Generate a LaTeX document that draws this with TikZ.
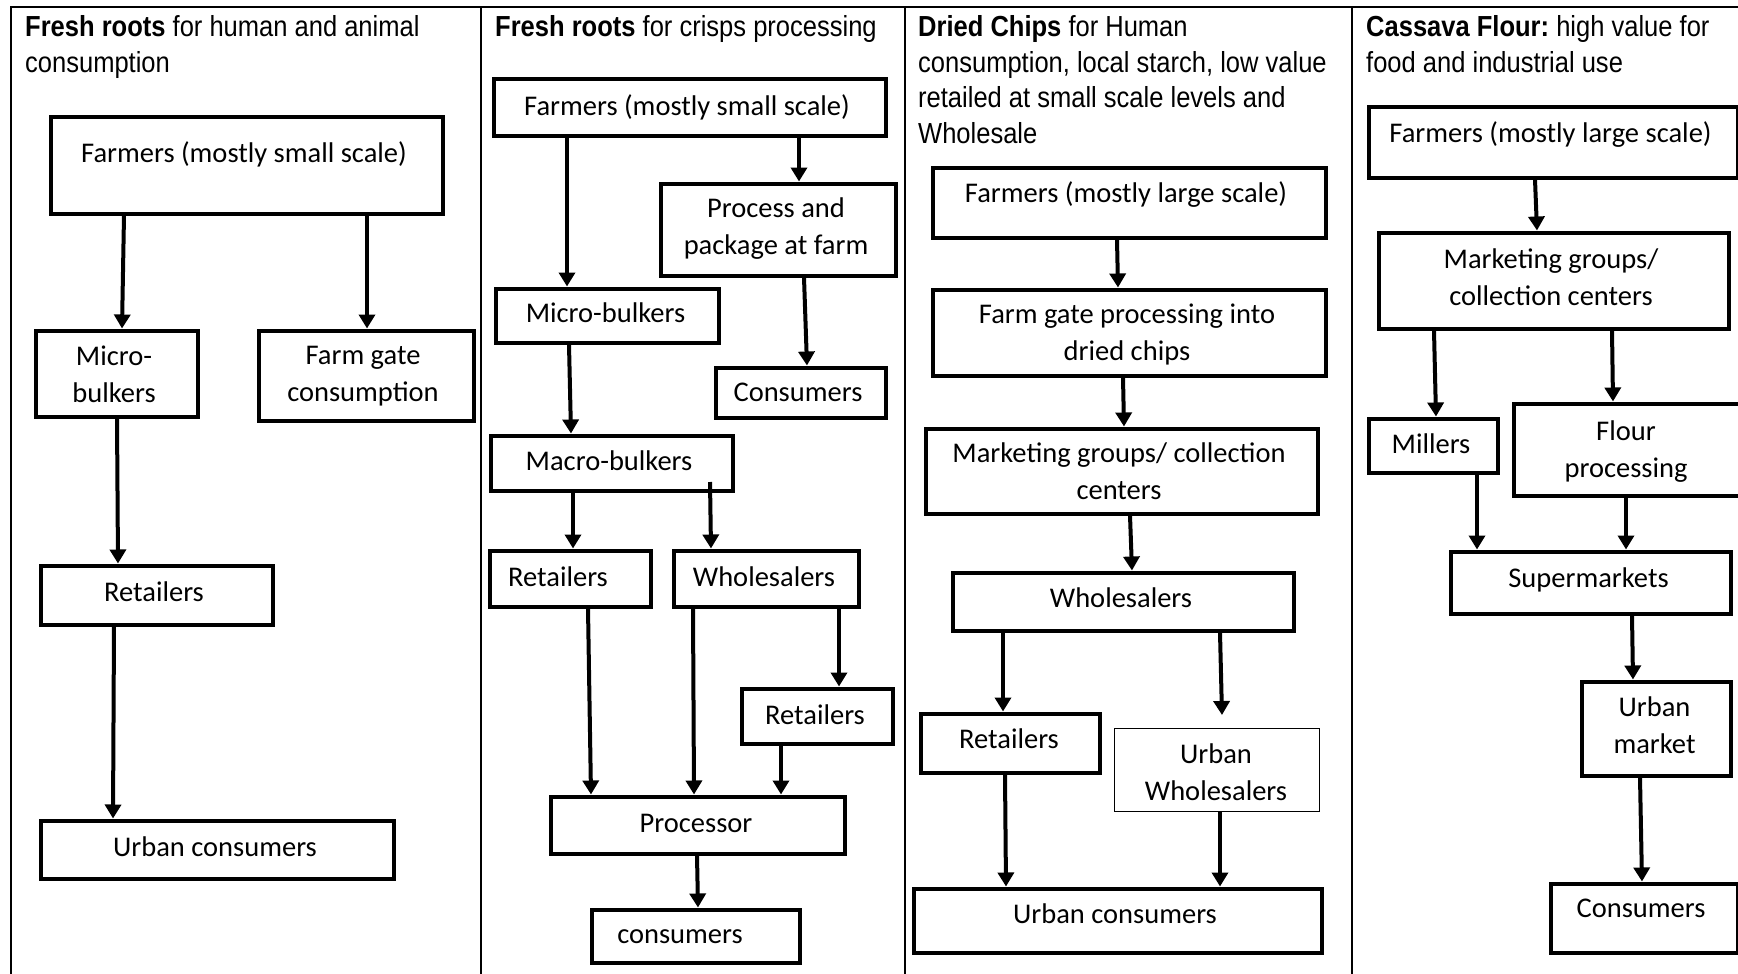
\documentclass[tikz,border=0pt]{standalone}
\usepackage{fontspec}
\setmainfont{Carlito}
\newfontfamily\titlef[FakeStretch=0.88]{Liberation Sans}
\usetikzlibrary{arrows.meta}
\frenchspacing
\tikzset{
  frame/.style={line width=2pt},
  box/.style={draw, line width=4pt, inner sep=0pt, anchor=north west},
  thinbox/.style={draw, line width=1.8pt, inner sep=0pt, anchor=north west},
  arr/.style={line width=4pt, -{Triangle[width=16pt,length=14pt]}},
  txt/.style={inner sep=0pt, anchor=north, align=center, yshift=26.25pt,
    font=\fontsize{28.5}{37.5}\selectfont},
  ttl/.style={inner sep=0pt, anchor=north west, align=left, yshift=24.85pt,
    font=\titlef\fontsize{29}{35.5}\selectfont},
}
\newcommand{\bx}[6][box]{%
  \node[#1, minimum width=#4pt-#2pt-3pt, minimum height=#5pt-#3pt-3pt] (#6) at (#2+1.5,#3+1.5) {};}
\begin{document}
\begin{tikzpicture}[x=1pt,y=-1pt]
\useasboundingbox (0,0) rectangle (1738,974);
% frame
\draw[frame] (1738,7) -- (11,7) -- (11,974);
\draw[frame] (481,7) -- (481,974);
\draw[frame] (905,7) -- (905,974);
\draw[frame] (1352,7) -- (1352,974);

% titles
\node[ttl] (t1) at (25,36.5) {\strut\textbf{Fresh roots} for human and animal\\consumption};
\node[ttl] (t2) at (495,36.5) {\strut\textbf{Fresh roots} for crisps processing};
\node[ttl] (t3) at (918,36.5) {\strut\textbf{Dried Chips} for Human\\consumption, local starch, low value\\retailed at small scale levels and\\Wholesale};
\node[ttl] (t4) at (1366,36.5) {\strut\textbf{Cassava Flour:} high value for\\food and industrial use};

% ---------- panel 1 ----------
\bx{47}{113}{442}{213}{f1}
\bx{32}{327}{197}{416}{mb1}
\bx{255}{327}{473}{420}{fg1}
\bx{37}{562}{272}{624}{r1}
\bx{37}{817}{393}{878}{u1}
\node[txt] (f1t) at (244,162) {\strut Farmers (mostly small scale)};
\node[txt] (mb1t) at (114,365) {\strut Micro-\\bulkers};
\node[txt] (fg1t) at (363,364) {\strut Farm gate\\consumption};
\node[txt] (r1t) at (154,601) {\strut Retailers};
\node[txt] (u1t) at (215,856) {\strut Urban consumers};
\draw[arr] (124,0 |- f1.south) -- (122,0 |- mb1.north);
\draw[arr] (367,0 |- f1.south) -- (367,0 |- fg1.north);
\draw[arr] (117,0 |- mb1.south) -- (118,0 |- r1.north);
\draw[arr] (114,0 |- r1.south) -- (113,0 |- u1.north);

% ---------- panel 2 ----------
\bx{490}{76}{885}{135}{f2}
\bx{657}{180}{895}{275}{pp2}
\bx{492}{285}{718}{342}{mb2}
\bx{712}{364}{885}{417}{c2}
\bx{487}{432}{732}{490}{mc2}
\bx{486}{547}{650}{606}{r2}
\bx{670}{547}{858}{606}{w2}
\bx{738}{685}{892}{743}{r2b}
\bx{547}{793}{844}{853}{pr2}
\bx{588}{906}{799}{962}{c2b}
\node[txt] (f2t) at (687,115) {\strut Farmers (mostly small scale)};
\node[txt] (pp2t) at (776,217) {\strut Process and\\package at farm};
\node[txt] (mb2t) at (605.5,322) {\strut Micro-bulkers};
\node[txt] (c2t) at (798,401) {\strut Consumers};
\node[txt] (mc2t) at (609,470) {\strut Macro-bulkers};
\node[txt] (r2t) at (558,586) {\strut Retailers};
\node[txt] (w2t) at (764,586) {\strut Wholesalers};
\node[txt] (r2bt) at (815,724) {\strut Retailers};
\node[txt] (pr2t) at (696,832) {\strut Processor};
\node[txt] (c2bt) at (680,943) {\strut consumers};
\coordinate (mcw) at (710,482);
\draw[arr] (567,0 |- f2.south) -- (567,0 |- mb2.north);
\draw[arr] (799,0 |- f2.south) -- (799,0 |- pp2.north);
\draw[arr] (804,0 |- pp2.south) -- (807,0 |- c2.north);
\draw[arr] (569,0 |- mb2.south) -- (571,0 |- mc2.north);
\draw[arr] (573,0 |- mc2.south) -- (573,0 |- r2.north);
\draw[arr] (mcw) -- (711,0 |- w2.north);
\draw[arr] (588,0 |- r2.south) -- (591,0 |- pr2.north);
\draw[arr] (693,0 |- w2.south) -- (694,0 |- pr2.north);
\draw[arr] (839,0 |- w2.south) -- (839,0 |- r2b.north);
\draw[arr] (781,0 |- r2b.south) -- (781,0 |- pr2.north);
\draw[arr] (697,0 |- pr2.south) -- (698,0 |- c2b.north);

% ---------- panel 3 ----------
\bx{929}{164}{1325}{237}{f3}
\bx{929}{286}{1325}{375}{fg3}
\bx{922}{425}{1317}{513}{mg3}
\bx{949}{569}{1293}{630}{w3}
\bx{917}{710}{1099}{772}{r3}
\bx[thinbox]{1112}{726}{1320}{812}{uw3}
\bx{910}{885}{1321}{952}{u3}
\node[txt] (f3t) at (1126,202) {\strut Farmers (mostly large scale)};
\node[txt] (fg3t) at (1127,323) {\strut Farm gate processing into\\dried chips};
\node[txt] (mg3t) at (1119,462) {\strut Marketing groups/ collection\\centers};
\node[txt] (w3t) at (1121,607) {\strut Wholesalers};
\node[txt] (r3t) at (1009,748) {\strut Retailers};
\node[txt] (uw3t) at (1216,763) {\strut Urban\\Wholesalers};
\node[txt] (u3t) at (1115,923) {\strut Urban consumers};
\coordinate (uwend) at (1222,715);
\draw[arr] (1117,0 |- f3.south) -- (1118,0 |- fg3.north);
\draw[arr] (1123,0 |- fg3.south) -- (1124,0 |- mg3.north);
\draw[arr] (1130,0 |- mg3.south) -- (1132,0 |- w3.north);
\draw[arr] (1003,0 |- w3.south) -- (1003,0 |- r3.north);
\draw[arr] (1220,0 |- w3.south) -- (uwend);
\draw[arr] (1005,0 |- r3.south) -- (1006,0 |- u3.north);
\draw[arr] (1220,0 |- uw3.south) -- (1220,0 |- u3.north);

% ---------- panel 4 ----------
\bx{1365}{103}{1737}{177}{f4}
\bx{1375}{229}{1728}{328}{mg4}
\bx{1365}{415}{1497}{472}{mi4}
\bx{1510}{400}{1748}{495}{fp4}
\bx{1447}{548}{1730}{613}{s4}
\bx{1578}{678}{1730}{775}{um4}
\bx{1547}{880}{1737}{952}{c4}
\node[txt] (f4t) at (1550.5,142) {\strut Farmers (mostly large scale)};
\node[txt] (mg4t) at (1551,268) {\strut Marketing groups/\\collection centers};
\node[txt] (mi4t) at (1431,453) {\strut Millers};
\node[txt] (fp4t) at (1626,440) {\strut Flour\\processing};
\node[txt] (s4t) at (1588.5,587) {\strut Supermarkets};
\node[txt] (um4t) at (1654.5,716) {\strut Urban\\market};
\node[txt] (c4t) at (1641,917) {\strut Consumers};
\draw[arr] (1535,0 |- f4.south) -- (1537,0 |- mg4.north);
\draw[arr] (1434,0 |- mg4.south) -- (1436,0 |- mi4.north);
\draw[arr] (1612,0 |- mg4.south) -- (1613,0 |- fp4.north);
\draw[arr] (1477,0 |- mi4.south) -- (1477,0 |- s4.north);
\draw[arr] (1626,0 |- fp4.south) -- (1626,0 |- s4.north);
\draw[arr] (1632,0 |- s4.south) -- (1633,0 |- um4.north);
\draw[arr] (1640,0 |- um4.south) -- (1642,0 |- c4.north);
\end{tikzpicture}
\end{document}
